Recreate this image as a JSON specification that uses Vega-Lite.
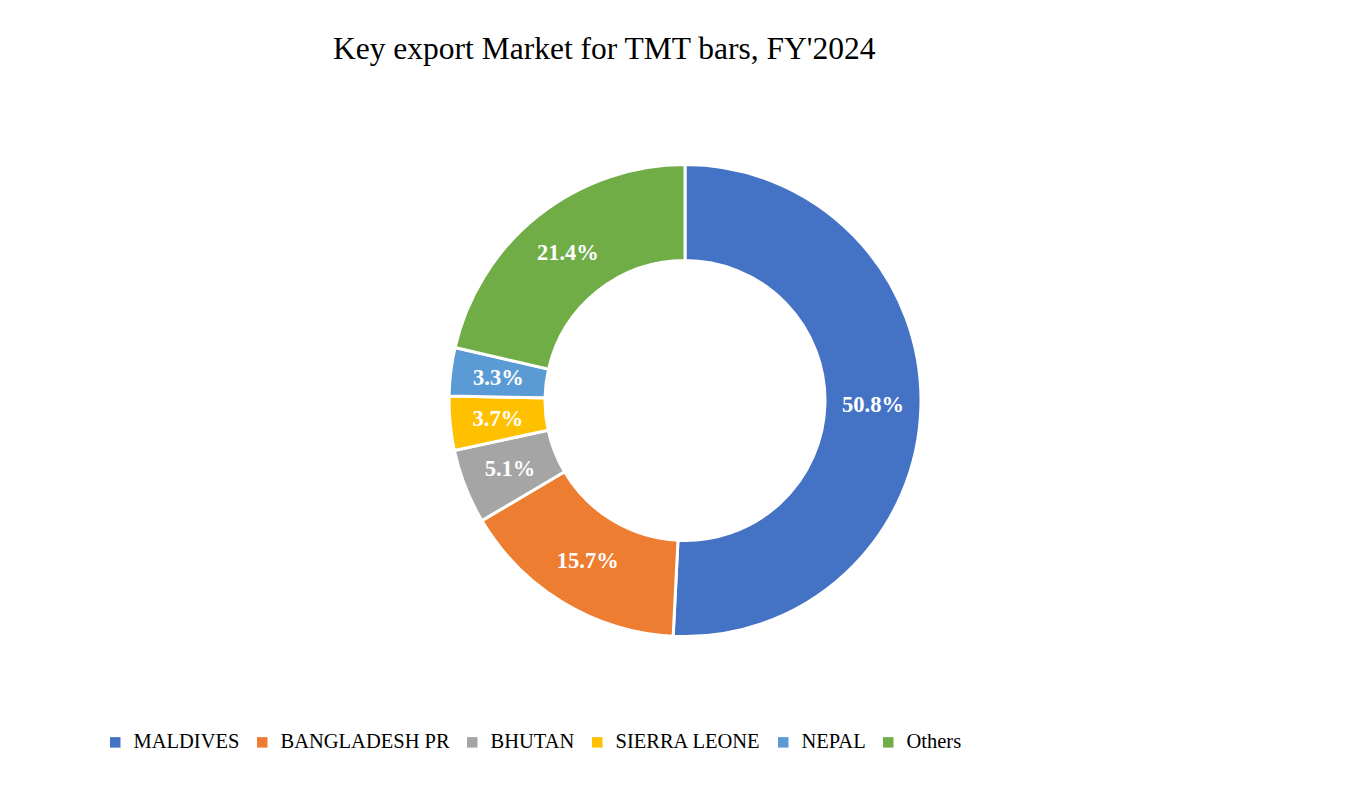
{
  "$schema": "https://vega.github.io/schema/vega-lite/v6.json",
  "width": 1365,
  "height": 787,
  "autosize": {"type": "fit", "contains": "padding"},
  "padding": {"top": 33, "bottom": 51, "left": 5, "right": 0},
  "background": "white",
  "title": {
    "text": "Key export Market for TMT bars, FY'2024",
    "font": "Liberation Serif",
    "fontSize": 31.5,
    "fontWeight": "normal",
    "color": "#000000",
    "anchor": "start",
    "dx": 328,
    "offset": 0
  },
  "data": {
    "values": [
      {"market": "MALDIVES", "share": 0.508, "rank": 1},
      {"market": "BANGLADESH PR", "share": 0.157, "rank": 2},
      {"market": "BHUTAN", "share": 0.051, "rank": 3},
      {"market": "SIERRA LEONE", "share": 0.037, "rank": 4},
      {"market": "NEPAL", "share": 0.033, "rank": 5},
      {"market": "Others", "share": 0.214, "rank": 6}
    ]
  },
  "encoding": {
    "theta": {"field": "share", "type": "quantitative", "stack": true},
    "order": {"field": "rank", "type": "quantitative"},
    "color": {
      "field": "market",
      "type": "nominal",
      "sort": ["MALDIVES", "BANGLADESH PR", "BHUTAN", "SIERRA LEONE", "NEPAL", "Others"],
      "scale": {
        "domain": ["MALDIVES", "BANGLADESH PR", "BHUTAN", "SIERRA LEONE", "NEPAL", "Others"],
        "range": ["#4472C4", "#ED7D31", "#A5A5A5", "#FFC000", "#5B9BD5", "#70AD47"]
      },
      "legend": {
        "title": null,
        "orient": "none",
        "legendX": 100,
        "legendY": 667,
        "direction": "horizontal",
        "symbolType": "square",
        "symbolSize": 110,
        "symbolStrokeWidth": 0,
        "labelFont": "Liberation Serif",
        "labelFontSize": 20.5,
        "labelColor": "#000000",
        "labelLimit": 300,
        "columnPadding": 12,
        "labelOffset": 8
      }
    }
  },
  "layer": [
    {
      "mark": {"type": "arc", "innerRadius": 140, "outerRadius": 236, "stroke": "white", "strokeWidth": 3}
    },
    {
      "mark": {"type": "text", "radius": 188, "font": "Liberation Serif", "fontSize": 22.5, "fontWeight": "bold", "fill": "white"},
      "encoding": {
        "text": {"field": "share", "type": "quantitative", "format": ".1%"}
      }
    }
  ],
  "config": {"view": {"stroke": null}}
}
